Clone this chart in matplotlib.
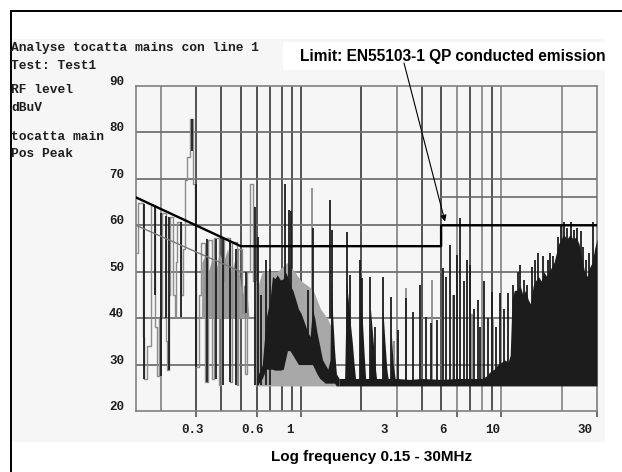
import matplotlib
matplotlib.use('Agg')
import matplotlib.pyplot as plt
from matplotlib.patches import Rectangle
from matplotlib.lines import Line2D
import matplotlib.transforms as mtransforms

W, H, DPI = 622, 472, 100

# ---------------- data ----------------
y_ticks = [20, 30, 40, 50, 60, 70, 80, 90]
x_tick_vals = [0.3, 0.6, 1, 3, 6, 10, 30]
x_tick_labels = ['0.3', '0.6', '1', '3', '6', '10', '30']

grid_dark = [0.3, 0.4, 0.5, 0.6, 0.7, 0.8, 0.9, 1, 2, 4, 5, 7, 9]
grid_light = [0.2, 3, 6, 8, 10, 20]

# limit lines
limit_qp_f = [0.15, 0.5, 5.0, 5.0, 30.0]
limit_qp_db = [66.0, 55.5, 55.5, 60.0, 60.0]
limit_thin1_f = [0.15, 0.5]
limit_thin1_db = [60.0, 50.0]
limit_thin2_f = [5.0, 30.0]
limit_thin2_db = [66.0, 66.0]

floor_db = 25.4

# low-frequency trace (steps, level from each frequency on)
lf_f = [0.1500, 0.1530, 0.1625, 0.1650, 0.1700, 0.1778, 0.1866, 0.1900, 0.1960,
        0.2022, 0.2118, 0.2150, 0.2190, 0.2222, 0.2295, 0.2340, 0.2380, 0.2404,
        0.2518, 0.2580, 0.2620, 0.2700, 0.2780, 0.2890, 0.2960, 0.3000, 0.3080,
        0.3180, 0.3330, 0.3420, 0.3600, 0.3680, 0.3880, 0.4000, 0.4130, 0.4430,
        0.4500, 0.4800, 0.4850, 0.5090, 0.5200, 0.5275, 0.5400, 0.5530, 0.5750,
        0.5950, 0.6000]
lf_db = [54.0, 64.7, 36.0, 27.0, 34.0, 64.3, 38.0, 27.6, 40.0,
         62.6, 35.0, 28.9, 45.0, 61.8, 45.0, 40.3, 52.0, 60.8,
         45.0, 55.0, 69.8, 74.8, 83.0, 69.0, 54.0, 29.5, 45.0,
         56.1, 26.3, 56.8, 27.0, 57.2, 25.6, 48.0, 57.2, 26.3,
         56.5, 25.6, 55.0, 41.1, 47.0, 28.0, 50.0, 69.0, 48.0,
         25.5, 25.5]

# gray mass of the 0.32-0.55 MHz pulses
lfm_f = [0.318, 0.320, 0.335, 0.345, 0.360, 0.375, 0.390, 0.410, 0.430, 0.450,
         0.470, 0.490, 0.510, 0.530, 0.545, 0.550]
lfm_db = [40.0, 52.0, 54.0, 50.0, 53.0, 50.0, 54.0, 52.0, 55.0, 50.0,
          53.0, 50.0, 45.0, 48.0, 42.0, 40.0]
lfm_lo = 40.0

# gray texture under the dense part
gfill_f = [0.590, 0.600, 0.640, 0.700, 0.760, 0.850, 0.930, 1.000, 1.080, 1.150,
           1.250, 1.350, 1.420, 1.480, 1.520]
gfill_db = [25.5, 46.0, 50.0, 50.0, 50.0, 52.0, 50.0, 48.0, 47.0, 46.0,
            42.0, 40.0, 38.0, 30.0, 25.5]

# dense dark cluster 0.6-1.55 MHz (top and bottom edges)
fa_f = [0.600, 0.640, 0.670, 0.700, 0.720, 0.740, 0.760, 0.790, 0.815, 0.835,
        0.855, 0.880, 0.910, 0.940, 0.970, 1.000, 1.040, 1.080, 1.110, 1.140,
        1.170, 1.200, 1.240, 1.280, 1.320, 1.360, 1.395, 1.410, 1.440, 1.470,
        1.500, 1.550]
fa_top = [27.0, 30.0, 40.0, 44.0, 49.0, 48.5, 49.3, 48.2, 48.5, 50.0,
          49.0, 47.0, 46.0, 44.0, 42.0, 41.0, 39.0, 37.0, 36.0, 42.0,
          40.0, 37.0, 34.0, 31.0, 30.0, 29.0, 31.0, 48.0, 40.0, 33.0,
          28.0, 27.0]
fa_lo = [25.4, 27.0, 29.0, 29.0, 29.0, 28.8, 28.8, 28.8, 29.0, 31.0,
         33.0, 33.0, 32.0, 31.0, 30.0, 30.0, 30.0, 30.0, 30.0, 30.0,
         29.0, 28.0, 27.0, 26.5, 26.0, 26.0, 26.0, 26.0, 26.0, 26.0,
         25.4, 25.4]

# dark envelope 1.55-30 MHz (down to the noise floor)
fill_f = [1.550, 1.650, 1.685, 1.720, 1.760,
          1.800, 1.840, 1.870, 1.960, 1.985, 2.020, 2.060, 2.100, 2.200, 2.220,
          2.280, 2.340, 2.380, 2.540, 2.560, 2.620, 2.680, 2.720, 2.800, 2.820,
          2.880, 2.950, 3.0, 3.5, 4.0, 5.0, 6.0, 7.0, 8.0, 8.4,
          8.8, 9.2, 9.6, 10.0, 10.4, 10.8, 11.06, 11.3, 11.6, 12.0,
          12.4, 12.8, 13.2, 13.6, 14.0, 14.4, 14.8, 15.3, 15.8, 16.3,
          16.8, 17.3, 17.8, 18.3, 18.8, 19.3, 19.8, 20.5, 21.2, 22.0,
          22.8, 23.6, 24.4, 25.2, 26.0, 26.8, 27.6, 28.4, 29.2, 30.0]
fill_db = [27.0, 27.0, 48.0, 44.0, 39.0,
           35.0, 30.0, 27.0, 27.0, 44.0, 40.0, 33.0, 27.0, 27.0, 42.0,
           36.0, 30.0, 27.0, 27.0, 42.0, 35.0, 29.0, 27.0, 27.0, 37.0,
           30.0, 27.0, 27.0, 26.8, 27.0, 26.8, 27.0, 27.0, 27.0, 27.5,
           28.5, 29.0, 30.0, 30.5, 31.0, 30.5, 32.0, 44.0, 46.0, 46.0,
           47.0, 45.0, 46.0, 44.0, 43.0, 47.0, 48.0, 49.0, 48.0, 50.0,
           49.0, 50.0, 51.0, 52.0, 54.0, 56.0, 57.0, 58.0, 57.0, 58.0,
           57.0, 57.5, 56.0, 53.0, 50.0, 49.0, 51.0, 52.0, 55.0, 57.0]

# dark spikes
spike_f = [0.165, 0.187, 0.199, 0.212, 0.219, 0.252, 0.284, 0.298, 0.340, 0.375,
           0.407, 0.443, 0.474, 0.532, 0.590, 0.610, 0.630, 0.669, 0.700, 0.830,
           0.870, 0.895, 1.08, 1.15, 1.40, 1.43, 1.69, 1.76, 1.97, 2.02,
           2.21, 2.33, 2.55, 2.80, 3.05, 3.34, 3.60, 3.93, 4.20, 4.45,
           4.75, 5.10, 5.30, 5.54, 5.80, 6.00, 6.20, 6.50, 6.75, 7.00,
           7.30, 7.60, 7.85, 8.20, 8.60, 8.95, 9.40, 9.85, 10.3, 10.8,
           11.4, 12.1, 12.4, 12.9, 13.4, 14.2, 14.7, 15.3, 16.2, 17.0,
           17.5, 18.1, 19.1, 19.9, 20.6, 21.3, 22.3, 23.1, 23.9, 24.9,
           25.6, 26.5, 27.5, 28.7]
spike_top = [64.5, 64.0, 62.6, 62.0, 61.8, 60.8, 83.0, 69.0, 57.0, 57.0,
             57.0, 56.5, 55.0, 50.0, 64.0, 57.5, 45.0, 52.5, 50.5, 69.0,
             63.3, 63.0, 46.0, 59.4, 65.4, 59.0, 58.6, 49.3, 52.5, 48.6,
             48.9, 38.0, 48.9, 44.6, 37.4, 44.3, 41.4, 47.1, 40.3, 39.0,
             39.6, 50.7, 48.9, 55.8, 45.0, 53.6, 61.5, 48.0, 52.5, 51.4,
             42.0, 44.0, 38.0, 47.9, 40.0, 45.7, 38.0, 45.5, 42.0, 45.5,
             47.2, 50.0, 51.4, 48.2, 47.2, 51.0, 52.5, 54.0, 53.4, 52.5,
             54.0, 53.4, 57.5, 59.9, 60.8, 59.5, 60.8, 59.0, 59.4, 58.7,
             55.4, 52.5, 54.0, 60.8]
spike_bot = [27.0, 45.0, 27.6, 40.0, 28.9, 40.3, 76.0, 29.5, 26.3, 27.0,
             25.6, 26.3, 25.6, 41.1, 25.5, 25.5, 25.5, 25.5, 25.5, 40.0,
             35.0, 35.0, 30.0, 30.0, 40.0, 27.0, 27.0, 27.0, 27.0, 27.0,
             27.0, 26.0, 26.0, 26.0, 26.0, 26.0, 26.0, 26.0, 26.0, 26.0,
             26.0, 26.0, 26.0, 26.0, 26.0, 26.0, 26.0, 26.0, 26.0, 26.0,
             26.0, 26.0, 26.0, 26.0, 26.0, 26.0, 26.0, 26.0, 26.0, 26.0,
             40.0, 40.0, 40.0, 40.0, 40.0, 40.0, 40.0, 40.0, 40.0, 40.0,
             40.0, 40.0, 45.0, 45.0, 45.0, 45.0, 45.0, 45.0, 45.0, 45.0,
             45.0, 45.0, 45.0, 45.0]

# thin gray spikes
gspike_f = [1.13, 2.90, 3.34, 4.50, 5.70, 7.15, 9.10]
gspike_top = [68.0, 35.0, 46.5, 48.2, 45.0, 41.0, 40.0]
gspike_bot = [46.0, 26.0, 26.0, 26.0, 26.0, 26.0, 26.0]

# ---------------- figure ----------------
fig = plt.figure(figsize=(W / DPI, H / DPI), dpi=DPI)
fig.patch.set_facecolor('white')


def fx(px):
    return px / W


def fy(py):
    return 1 - py / H


fig.patches.append(Rectangle((fx(11), fy(442)), fx(605) - fx(11), fy(39) - fy(442),
                             transform=fig.transFigure, facecolor='#f6f6f6',
                             edgecolor='none', zorder=-2))
fig.patches.append(Rectangle((fx(283), fy(70)), fx(605) - fx(283), fy(42) - fy(70),
                             transform=fig.transFigure, facecolor='white',
                             edgecolor='none', zorder=-1))
fig.add_artist(Line2D([fx(11), fx(11)], [fy(11), 0], color='black', lw=1.4,
                      transform=fig.transFigure))
fig.add_artist(Line2D([fx(11), 1], [fy(11), fy(11)], color='black', lw=1.4,
                      transform=fig.transFigure))

ax = fig.add_axes([fx(136), fy(411), fx(597) - fx(136), fy(86) - fy(411)])
ax.set_zorder(1)
ax.set_facecolor('none')
ax.set_xscale('log')
ax.set_xlim(0.15, 30)
ax.set_ylim(20, 90)

for v in grid_dark:
    ax.axvline(v, color='#454545', lw=1.3, zorder=1)
for v in grid_light:
    ax.axvline(v, color='#8a8a8a', lw=1.3, zorder=1)
for v in y_ticks[1:-1]:
    ax.axhline(v, color='#707070', lw=1.3, zorder=1)

for s in ax.spines.values():
    s.set_color('#808080')
    s.set_linewidth(1.2)

ax.set_xticks(x_tick_vals)
ax.set_xticklabels([])
ax.xaxis.set_minor_locator(matplotlib.ticker.NullLocator())
ax.tick_params(axis='x', which='major', direction='out', length=4.5, width=1.2,
               color='#555555')
ax.set_yticks([])

mono = dict(family='Liberation Mono', fontweight='bold', color='#1e1e1e')

x_off = [-4, -4, -11, -12, -14, -9, -12]
for v, lab, dx in zip(x_tick_vals, x_tick_labels, x_off):
    tr = mtransforms.offset_copy(ax.get_xaxis_transform(), fig=fig, x=dx, y=-19, units='dots')
    ax.text(v, 0, lab, transform=tr, ha='center', va='center', fontsize=9, **mono)

for v in y_ticks:
    tr = mtransforms.offset_copy(ax.get_yaxis_transform(), fig=fig, x=-12, y=4, units='dots')
    ax.text(0, v, str(v), transform=tr, ha='right', va='center', fontsize=9, **mono)

# data
ax.fill_between(gfill_f, floor_db, gfill_db, color='#a8a8a8', lw=0, zorder=2)
ax.fill_between(lfm_f, lfm_lo, lfm_db, color='#9a9a9a', lw=0, zorder=2)
ax.plot(lf_f, lf_db, drawstyle='steps-post', color='#8c8c8c', lw=1.0, zorder=3)
ax.vlines(gspike_f, gspike_bot, gspike_top, color='#8c8c8c', lw=1.3, zorder=3)
ax.fill_between(fa_f, fa_lo, fa_top, color='#1c1c1c', lw=0, zorder=4)
ax.fill_between(fill_f, floor_db, fill_db, color='#1c1c1c', lw=0, zorder=4)
ax.vlines(spike_f, spike_bot, spike_top, color='#1c1c1c', lw=1.3, zorder=5)

ax.plot(limit_thin1_f, limit_thin1_db, color='#7a7a7a', lw=1.0, zorder=6)
ax.plot(limit_thin2_f, limit_thin2_db, color='#6a6a6a', lw=1.2, zorder=6)
ax.plot(limit_qp_f, limit_qp_db, color='black', lw=1.7, zorder=7)

ax.annotate('', xy=(5.23, 60.8), xycoords='data',
            xytext=(fx(404), fy(63)), textcoords='figure fraction',
            arrowprops=dict(arrowstyle='-|>', color='black', lw=0.8,
                            mutation_scale=9, shrinkA=0, shrinkB=0),
            annotation_clip=False, zorder=8)

# texts
hdr = [("Analyse tocatta mains con line 1", 48),
       ("Test: Test1", 66),
       ("RF level", 90),
       ("dBuV", 108),
       ("tocatta main", 137),
       ("Pos Peak", 154)]
for t, yy in hdr:
    fig.text(fx(11), fy(yy), t, ha='left', va='center', fontsize=9.3, **mono)

lt = fig.text(fx(300), fy(57), 'Limit: EN55103-1 QP conducted emission',
              ha='left', va='center', fontsize=11.2, fontweight='bold',
              family='Liberation Sans', color='black')
lt.set_clip_box(mtransforms.Bbox.from_extents(0, H - 72, 605, H - 40))
lt.set_clip_on(True)

fig.text(fx(372), fy(457), 'Log frequency 0.15 - 30MHz', ha='center', va='center',
         fontsize=11, fontweight='bold', family='Liberation Sans', color='black')

fig.savefig('out.png', dpi=DPI)
